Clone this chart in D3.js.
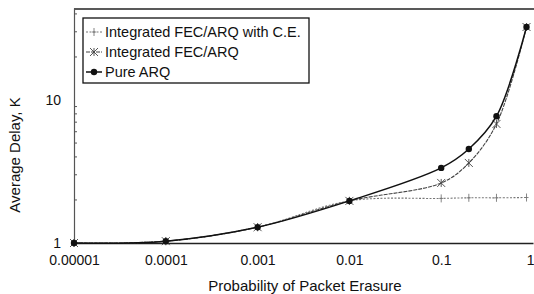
<!DOCTYPE html>
<html>
<head>
<meta charset="utf-8">
<script src="https://cdn.jsdelivr.net/npm/d3@7"></script>
<style>
  body { margin: 0; background: #fff; }
  text { font-family: "Liberation Sans", Arial, sans-serif; fill: #111; }
</style>
</head>
<body>
<script>
// chart size
var width = 534,
    height = 294;

// erasure probabilities (x)
var probs = [0.00001, 0.0001, 0.001, 0.01, 0.1, 0.2, 0.4, 0.85];

// average delay values for each series
var pureARQ = [1, 1.03, 1.29, 1.97, 3.35, 4.54, 7.7, 32.4];
var integrated = [1, 1.03, 1.29, 1.97, 2.63, 3.63, 6.8, 32.4];
var integratedCE = [1, 1.03, 1.29, 1.97, 2.05, 2.07, 2.07, 2.08];

var seriesNames = ['Integrated FEC/ARQ with C.E.', 'Integrated FEC/ARQ', 'Pure ARQ'];

// tick labels
var xTicks = [0.00001, 0.0001, 0.001, 0.01, 0.1, 1];
var xTickLabels = ['0.00001', '0.0001', '0.001', '0.01', '0.1', '1'];
var yTicks = [1, 10];
var yMinor = [2, 3, 4, 5, 6, 7, 8, 9, 20, 30, 40];

var margin = {left: 74, right: 1, top: 8, bottom: 51};

var svg = d3.select('body')
  .append('svg')
  .attr('width', width)
  .attr('height', height);

var x = d3.scaleLog()
  .domain([0.00001, 1])
  .range([margin.left, width - margin.right]);

var y = d3.scaleLog()
  .domain([1, 44])
  .range([height - margin.bottom, margin.top]);

// top border
svg.append('line')
  .attr('x1', margin.left).attr('x2', width)
  .attr('y1', margin.top + 1).attr('y2', margin.top + 1)
  .attr('stroke', '#222').attr('stroke-width', 1.6);

// x axis
var xAxis = svg.append('g')
  .attr('transform', 'translate(0,' + (height - margin.bottom) + ')')
  .call(d3.axisBottom(x).tickValues(xTicks)
    .tickFormat(function(d, i) { return xTickLabels[i]; })
    .tickSize(0).tickPadding(12));
xAxis.select('.domain').attr('stroke', '#222').attr('stroke-width', 1.5);
xAxis.selectAll('text')
  .style('font-size', '14px')
  .style('font-family', '"Liberation Sans", Arial, sans-serif')
  .attr('fill', '#111');
// last label sits at the right edge, keep it inside the window
xAxis.selectAll('.tick text')
  .filter(function(d) { return d === 1; })
  .attr('text-anchor', 'end')
  .attr('dx', 1);

// y axis
var yAxis = svg.append('g')
  .attr('transform', 'translate(' + margin.left + ',0)')
  .call(d3.axisLeft(y).tickValues(yTicks)
    .tickFormat(d3.format('d'))
    .tickSize(0).tickPadding(13));
yAxis.select('.domain').attr('stroke', '#555').attr('stroke-width', 1.2);
yAxis.selectAll('text')
  .style('font-size', '14px')
  .style('font-family', '"Liberation Sans", Arial, sans-serif')
  .attr('fill', '#111');

// minor ticks on the y axis (inside)
svg.append('g')
  .selectAll('line')
  .data(yMinor)
  .enter()
  .append('line')
  .attr('x1', margin.left).attr('x2', margin.left + 3)
  .attr('y1', function(d) { return y(d); })
  .attr('y2', function(d) { return y(d); })
  .attr('stroke', '#555');

// axis titles
svg.append('text')
  .attr('x', 305)
  .attr('y', 291)
  .attr('text-anchor', 'middle')
  .style('font-size', '15px')
  .text('Probability of Packet Erasure');

svg.append('text')
  .attr('transform', 'translate(20,155) rotate(-90)')
  .attr('text-anchor', 'middle')
  .style('font-size', '15px')
  .text('Average Delay, K');

// smoothed lines like the spreadsheet original
var line = d3.line()
  .x(function(d) { return x(d[0]); })
  .y(function(d) { return y(d[1]); })
  .curve(d3.curveCatmullRom.alpha(0.5));

function pairs(vals) {
  return probs.map(function(p, i) { return [p, vals[i]]; });
}

var styles = [
  {vals: integratedCE, stroke: '#777', width: 1.1, dash: '2,1.5', marker: 'plus'},
  {vals: integrated, stroke: '#444', width: 1.1, dash: '4,1', marker: 'star'},
  {vals: pureARQ, stroke: '#111', width: 1.5, dash: null, marker: 'dot'}
];

function drawMarker(g, type, cx, cy, color) {
  if (type === 'dot') {
    g.append('circle').attr('cx', cx).attr('cy', cy).attr('r', 3.2).attr('fill', color);
  } else if (type === 'star') {
    g.append('path')
      .attr('d', 'M' + (cx - 4) + ',' + (cy - 4) + 'L' + (cx + 4) + ',' + (cy + 4) +
                 'M' + (cx - 4) + ',' + (cy + 4) + 'L' + (cx + 4) + ',' + (cy - 4) +
                 'M' + cx + ',' + (cy - 4) + 'L' + cx + ',' + (cy + 4))
      .attr('stroke', color).attr('stroke-width', 0.9).attr('fill', 'none');
  } else {
    g.append('path')
      .attr('d', 'M' + cx + ',' + (cy - 4) + 'L' + cx + ',' + (cy + 4) +
                 'M' + (cx - 2) + ',' + cy + 'L' + (cx + 2) + ',' + cy)
      .attr('stroke', color).attr('stroke-width', 0.9).attr('fill', 'none');
  }
}

styles.forEach(function(s) {
  var data = pairs(s.vals);
  svg.append('path')
    .datum(data)
    .attr('d', line)
    .attr('fill', 'none')
    .attr('stroke', s.stroke)
    .attr('stroke-width', s.width)
    .attr('stroke-dasharray', s.dash);
  var g = svg.append('g');
  data.forEach(function(d) {
    drawMarker(g, s.marker, x(d[0]), y(d[1]), s.stroke);
  });
});

// legend
var legend = svg.append('g').attr('transform', 'translate(83,18)');
legend.append('rect')
  .attr('width', 226).attr('height', 65)
  .attr('fill', '#fff').attr('stroke', '#111').attr('stroke-width', 1.3);

seriesNames.forEach(function(name, i) {
  var ly = 14 + i * 20;
  var s = styles[i];
  legend.append('line')
    .attr('x1', 3).attr('x2', 19)
    .attr('y1', ly).attr('y2', ly)
    .attr('stroke', s.stroke).attr('stroke-width', s.width)
    .attr('stroke-dasharray', s.dash);
  drawMarker(legend, s.marker, 11, ly, s.stroke);
  legend.append('text')
    .attr('x', 22).attr('y', ly + 5)
    .style('font-size', '14.5px')
    .text(name);
});
</script>
</body>
</html>
